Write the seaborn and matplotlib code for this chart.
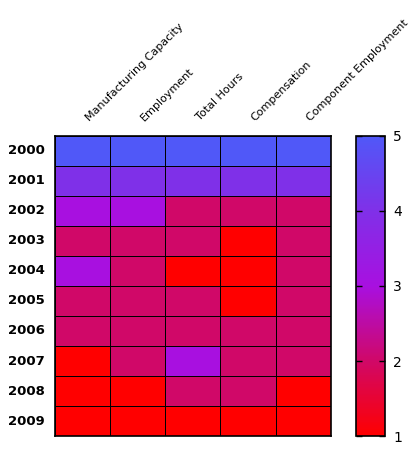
import numpy as np
import pandas as pd
import matplotlib.pyplot as plt
import seaborn as sns
from matplotlib.colors import LinearSegmentedColormap

years = ['2000', '2001', '2002', '2003', '2004', '2005', '2006', '2007', '2008', '2009']
measures = ['Manufacturing Capacity', 'Employment', 'Total Hours', 'Compensation', 'Component Employment']

manufacturing_capacity = [5, 4, 3, 2, 3, 2, 2, 1, 1, 1]
employment = [5, 4, 3, 2, 2, 2, 2, 2, 1, 1]
total_hours = [5, 4, 2, 2, 1, 2, 2, 3, 2, 1]
compensation = [5, 4, 2, 1, 1, 1, 2, 2, 2, 1]
component_employment = [5, 4, 2, 2, 2, 2, 2, 2, 1, 1]

df = pd.DataFrame({
    measures[0]: manufacturing_capacity,
    measures[1]: employment,
    measures[2]: total_hours,
    measures[3]: compensation,
    measures[4]: component_employment,
}, index=years)

# red -> crimson -> purple -> violet -> blue
cmap = LinearSegmentedColormap.from_list(
    'rb', ['#ff0000', '#d00868', '#a810e0', '#8030e8', '#5058f8'])

fig = plt.figure(figsize=(4.13, 4.59), dpi=100)
ax = fig.add_axes([0.133, 0.05, 0.668, 0.654])
cax = fig.add_axes([0.862, 0.05, 0.070, 0.654])

sns.heatmap(df, ax=ax, cbar_ax=cax, cmap=cmap, vmin=1, vmax=5,
            linewidths=0.6, linecolor='black')

for s in ax.spines.values():
    s.set_visible(True)
    s.set_linewidth(1.2)
    s.set_color('black')

# slanted column names, starting at each column centre above the grid
ax.set_xticks([])
for i, name in enumerate(measures):
    ax.annotate(name, xy=(i + 0.5, 1), xycoords=('data', 'axes fraction'),
                xytext=(6, 9.5), textcoords='offset points',
                rotation=45, ha='left', va='bottom', rotation_mode='anchor',
                fontsize=8)

ax.set_yticklabels(years, rotation=0, fontsize=9.5, fontweight='bold')
ax.tick_params(axis='y', length=0, pad=7)
ax.set_xlabel('')
ax.set_ylabel('')

cbar = ax.collections[0].colorbar
cbar.set_ticks([1, 2, 3, 4, 5])
cbar.ax.tick_params(direction='in', left=True, right=True, length=4,
                    labelsize=10, width=1, pad=6)
cbar.outline.set_edgecolor('black')
cbar.outline.set_linewidth(1.2)

plt.savefig('out.png', dpi=100)
